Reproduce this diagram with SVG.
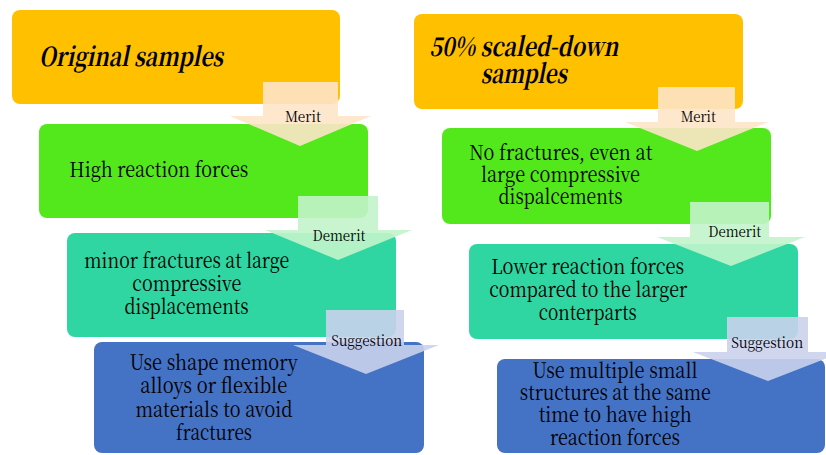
<svg xmlns="http://www.w3.org/2000/svg" width="826" height="455" viewBox="0 0 826 455">
<style>
.orange{fill:#FFC000}
.green{fill:#53E81B}
.teal{fill:#2FD6A1}
.blue{fill:#4472C4}
text{font-family:'Noto Serif CJK SC','DejaVu Serif',serif;fill:#000}
.title{font-weight:bold;font-style:italic;font-size:26px}
.t{font-size:21px;text-anchor:middle}
.lbl{font-size:15px;text-anchor:middle}
.merit{fill:#FDE4C8;opacity:0.9}
.demerit{fill:#C2F4CA;opacity:0.9}
.sugg{fill:#CAD2EC;opacity:0.9}
</style>
<rect width="826" height="455" fill="#fff"/>
<g id="left-original">
<rect class="orange" x="12" y="10" width="328" height="94" rx="8"/>
<text class="title" x="39" y="66" textLength="184" lengthAdjust="spacingAndGlyphs">Original samples</text>
</g>
<g id="left-merit-node">
<rect class="green" x="39" y="124" width="329" height="94" rx="8"/>
<text class="t" x="158.8" y="177" textLength="179" lengthAdjust="spacingAndGlyphs">High reaction forces</text>
</g>
<g id="left-demerit-node">
<rect class="teal" x="67" y="233" width="329" height="104" rx="8"/>
<text class="t" x="186.8" y="268" textLength="205" lengthAdjust="spacingAndGlyphs">minor fractures at large</text>
<text class="t" x="186.8" y="291" textLength="109" lengthAdjust="spacingAndGlyphs">compressive</text>
<text class="t" x="186.5" y="314" textLength="124" lengthAdjust="spacingAndGlyphs">displacements</text>
</g>
<g id="left-suggestion-node">
<rect class="blue" x="94" y="342" width="330" height="111" rx="8"/>
<text class="t" x="213.8" y="370" textLength="168" lengthAdjust="spacingAndGlyphs">Use shape memory</text>
<text class="t" x="213.7" y="393" textLength="147" lengthAdjust="spacingAndGlyphs">alloys or flexible</text>
<text class="t" x="214" y="417" textLength="157" lengthAdjust="spacingAndGlyphs">materials to avoid</text>
<text class="t" x="214" y="440" textLength="76" lengthAdjust="spacingAndGlyphs">fractures</text>
</g>
<g id="right-scaled">
<rect class="orange" x="414" y="14" width="329" height="95" rx="8"/>
<text class="title" x="523.8" y="56" text-anchor="middle" textLength="189" lengthAdjust="spacingAndGlyphs">50% scaled-down</text>
<text class="title" x="523.7" y="83" text-anchor="middle" textLength="86" lengthAdjust="spacingAndGlyphs">samples</text>
</g>
<g id="right-merit-node">
<rect class="green" x="442" y="128" width="329" height="96" rx="8"/>
<text class="t" x="560.8" y="160" textLength="183" lengthAdjust="spacingAndGlyphs">No fractures, even at</text>
<text class="t" x="560.5" y="182" textLength="159" lengthAdjust="spacingAndGlyphs">large compressive</text>
<text class="t" x="560.5" y="204" textLength="124" lengthAdjust="spacingAndGlyphs">dispalcements</text>
</g>
<g id="right-demerit-node">
<rect class="teal" x="469" y="244" width="329" height="95" rx="8"/>
<text class="t" x="587.7" y="274" textLength="193" lengthAdjust="spacingAndGlyphs">Lower reaction forces</text>
<text class="t" x="588.2" y="297" textLength="198" lengthAdjust="spacingAndGlyphs">compared to the larger</text>
<text class="t" x="587.8" y="320" textLength="98" lengthAdjust="spacingAndGlyphs">conterparts</text>
</g>
<g id="right-suggestion-node">
<rect class="blue" x="497" y="359" width="328" height="94" rx="8"/>
<text class="t" x="615" y="378" textLength="165" lengthAdjust="spacingAndGlyphs">Use multiple small</text>
<text class="t" x="615.3" y="400" textLength="191" lengthAdjust="spacingAndGlyphs">structures at the same</text>
<text class="t" x="615.2" y="422" textLength="153" lengthAdjust="spacingAndGlyphs">time to have high</text>
<text class="t" x="615" y="445" textLength="130" lengthAdjust="spacingAndGlyphs">reaction forces</text>
</g>
<g id="connectors">
<path class="merit" d="M263,82 H338 V116 H371 L300,146 L230,116 H263 Z"/>
<text class="lbl" x="303" y="122" textLength="36" lengthAdjust="spacingAndGlyphs">Merit</text>
<path class="demerit" d="M298,196 H378 V230 H412 L338,260 L265,230 H298 Z"/>
<text class="lbl" x="339" y="241" textLength="53" lengthAdjust="spacingAndGlyphs">Demerit</text>
<path class="sugg" d="M326,310 H404 V345 H439 L366,374 L293,345 H326 Z"/>
<text class="lbl" x="366.7" y="346" textLength="71" lengthAdjust="spacingAndGlyphs">Suggestion</text>
<path class="merit" d="M658,87 H735 V122 H768 L697,151 L625,122 H658 Z"/>
<text class="lbl" x="698.3" y="122" textLength="35" lengthAdjust="spacingAndGlyphs">Merit</text>
<path class="demerit" d="M690,202 H769 V237 H805 L731,266 L657,237 H690 Z"/>
<text class="lbl" x="734.7" y="237" textLength="53" lengthAdjust="spacingAndGlyphs">Demerit</text>
<path class="sugg" d="M727,317 H808 V352 H843 L768,381 L693,352 H727 Z"/>
<text class="lbl" x="767.2" y="348" textLength="72" lengthAdjust="spacingAndGlyphs">Suggestion</text>
</g>
</svg>
